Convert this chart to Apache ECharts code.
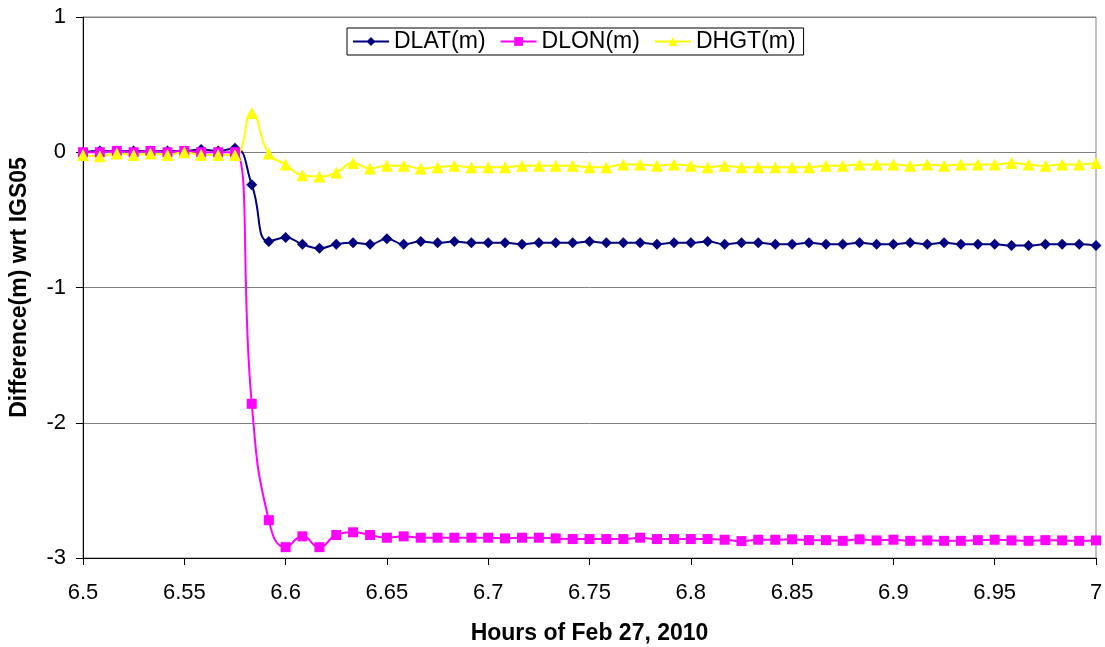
<!DOCTYPE html>
<html lang="en">
<head>
    <meta charset="UTF-8">
    <title>Difference wrt IGS05</title>
    <script src="https://cdn.jsdelivr.net/npm/echarts@6/dist/echarts.min.js"></script>
    <style>
        html, body { margin: 0; padding: 0; background: #fff; }
        #main { width: 1105px; height: 647px; }
    </style>
</head>
<body>
<div id="main"></div>
<script>
    // hours of Feb 27, 2010 (30 s epochs)
    var hours = [
        6.5, 6.5083, 6.5167, 6.525, 6.5333, 6.5417, 6.55, 6.5583, 6.5667, 6.575,
        6.5833, 6.5917, 6.6, 6.6083, 6.6167, 6.625, 6.6333, 6.6417, 6.65, 6.6583,
        6.6667, 6.675, 6.6833, 6.6917, 6.7, 6.7083, 6.7167, 6.725, 6.7333, 6.7417,
        6.75, 6.7583, 6.7667, 6.775, 6.7833, 6.7917, 6.8, 6.8083, 6.8167, 6.825,
        6.8333, 6.8417, 6.85, 6.8583, 6.8667, 6.875, 6.8833, 6.8917, 6.9, 6.9083,
        6.9167, 6.925, 6.9333, 6.9417, 6.95, 6.9583, 6.9667, 6.975, 6.9833, 6.9917,
        7
    ];

    var dlat = [
        0.00, 0.01, 0.01, 0.01, 0.01, 0.01, 0.01, 0.02, 0.01, 0.03,
        -0.24, -0.66, -0.63, -0.68, -0.71, -0.68, -0.67, -0.68, -0.64, -0.68,
        -0.66, -0.67, -0.66, -0.67, -0.67, -0.67, -0.68, -0.67, -0.67, -0.67,
        -0.66, -0.67, -0.67, -0.67, -0.68, -0.67, -0.67, -0.66, -0.68, -0.67,
        -0.67, -0.68, -0.68, -0.67, -0.68, -0.68, -0.67, -0.68, -0.68, -0.67,
        -0.68, -0.67, -0.68, -0.68, -0.68, -0.69, -0.69, -0.68, -0.68, -0.68,
        -0.69
    ];

    var dlon = [
        0.00, 0.00, 0.01, 0.00, 0.01, 0.00, 0.01, 0.00, 0.00, 0.00,
        -1.86, -2.72, -2.92, -2.84, -2.92, -2.83, -2.81, -2.83, -2.85, -2.84,
        -2.85, -2.85, -2.85, -2.85, -2.85, -2.855, -2.85, -2.85, -2.855, -2.86,
        -2.86, -2.86, -2.86, -2.85, -2.86, -2.86, -2.86, -2.86, -2.865, -2.875,
        -2.865, -2.865, -2.862, -2.868, -2.868, -2.873, -2.862, -2.87, -2.865, -2.873,
        -2.87, -2.873, -2.873, -2.868, -2.865, -2.87, -2.873, -2.868, -2.87, -2.873,
        -2.87
    ];

    var dhgt = [
        -0.02, -0.03, -0.01, -0.02, -0.01, -0.02, 0.00, -0.02, -0.02, -0.02,
        0.29, -0.01, -0.09, -0.17, -0.18, -0.15, -0.08, -0.12, -0.10, -0.10,
        -0.12, -0.11, -0.10, -0.11, -0.11, -0.11, -0.10, -0.10, -0.10, -0.10,
        -0.11, -0.11, -0.09, -0.09, -0.10, -0.09, -0.10, -0.11, -0.10, -0.11,
        -0.11, -0.11, -0.11, -0.11, -0.10, -0.10, -0.09, -0.09, -0.09, -0.10,
        -0.09, -0.10, -0.09, -0.09, -0.09, -0.08, -0.09, -0.10, -0.09, -0.09,
        -0.08
    ];

    var seriesNames = ['DLAT(m)', 'DLON(m)', 'DHGT(m)'];

    function pairs(ys) {
        return hours.map(function (h, i) { return [h, ys[i]]; });
    }

    var font = '"Liberation Sans", Arial, sans-serif';

    var myChart = echarts.init(document.getElementById('main'));
    var option = {
        animation: false,
        textStyle: { fontFamily: font },
        grid: {
            left: 83,
            right: 9,
            top: 17,
            bottom: 89,
            show: true,
            borderColor: '#808080',
            borderWidth: 1,
            containLabel: false,
            outerBoundsMode: 'none'
        },
        legend: {
            data: seriesNames,
            left: 347,
            top: 28,
            padding: [2, 8, 2, 5],
            itemWidth: 36,
            itemHeight: 11,
            itemGap: 14,
            borderColor: '#000',
            borderWidth: 1,
            textStyle: { fontSize: 23, color: '#000', fontFamily: font }
        },
        xAxis: {
            type: 'value',
            min: 6.5,
            max: 7,
            interval: 0.05,
            name: 'Hours of Feb 27, 2010',
            nameLocation: 'middle',
            nameGap: 64,
            nameTextStyle: { fontSize: 23, fontWeight: 'bold', color: '#000' },
            axisLine: { onZero: false, lineStyle: { color: '#000', width: 1 } },
            axisTick: { show: true, length: 7, lineStyle: { color: '#000' } },
            axisLabel: { fontSize: 22, color: '#000', margin: 24 },
            splitLine: { show: false }
        },
        yAxis: {
            type: 'value',
            min: -3,
            max: 1,
            interval: 1,
            name: 'Difference(m) wrt IGS05',
            nameLocation: 'middle',
            nameGap: 52,
            nameTextStyle: { fontSize: 23, fontWeight: 'bold', color: '#000' },
            axisLine: { show: true, lineStyle: { color: '#000', width: 1 } },
            axisTick: { show: true, length: 7, lineStyle: { color: '#000' } },
            axisLabel: { fontSize: 22, color: '#000', margin: 17 },
            splitLine: { show: true, lineStyle: { color: '#808080', width: 1 } }
        },
        series: [
            {
                name: seriesNames[0],
                type: 'line',
                smooth: true,
                data: pairs(dlat),
                symbol: 'diamond',
                symbolSize: 11,
                lineStyle: { color: '#000080', width: 2 },
                itemStyle: { color: '#000080' }
            },
            {
                name: seriesNames[1],
                type: 'line',
                smooth: true,
                data: pairs(dlon),
                symbol: 'rect',
                symbolSize: 10,
                lineStyle: { color: '#FF00FF', width: 2 },
                itemStyle: { color: '#FF00FF' }
            },
            {
                name: seriesNames[2],
                type: 'line',
                smooth: true,
                data: pairs(dhgt),
                symbol: 'triangle',
                symbolSize: 12,
                lineStyle: { color: '#FFFF00', width: 2 },
                itemStyle: { color: '#FFFF00' }
            }
        ]
    };
    myChart.setOption(option);
</script>
</body>
</html>
